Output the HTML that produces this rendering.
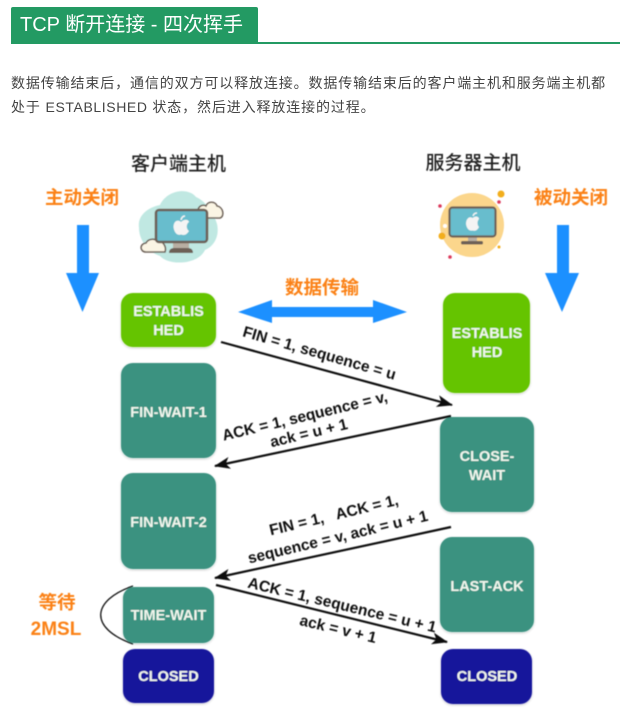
<!DOCTYPE html>
<html lang="zh"><head><meta charset="utf-8"><title>TCP 断开连接 - 四次挥手</title>
<style>
html,body{margin:0;padding:0;background:#fff;width:644px;height:725px;overflow:hidden}
body{position:relative;font-family:"Liberation Sans","Noto Sans CJK SC",sans-serif}
.hd{position:absolute;left:11px;top:7px;width:247px;height:36px;background:#239a63;border-radius:2px 2px 0 0;color:#fff;font-size:20px;line-height:36px;text-indent:9px;white-space:nowrap}
.ln{position:absolute;left:11px;top:42px;width:609px;height:1.500px;background:#239a63}
.p{position:absolute;left:11px;font-size:14px;letter-spacing:.875px;color:#444;white-space:nowrap;line-height:24px}
.p span{letter-spacing:.6px}
svg{position:absolute;left:0;top:0}
</style></head><body>
<div class="ln"></div>
<div class="hd">TCP 断开连接 - 四次挥手</div>
<div class="p" style="top:71px">数据传输结束后，通信的双方可以释放连接。数据传输结束后的客户端主机和服务端主机都</div>
<div class="p" style="top:95px">处于 <span>ESTABLISHED</span> 状态，然后进入释放连接的过程。</div>
<svg width="644" height="725" viewBox="0 0 644 725" font-family="'Liberation Sans','Noto Sans CJK SC',sans-serif">
<defs>
<filter id="b" x="-5%" y="-5%" width="110%" height="110%"><feGaussianBlur stdDeviation="0.42"/></filter>
<filter id="s" x="-10%" y="-10%" width="120%" height="120%"><feDropShadow dx="0" dy="1" stdDeviation="1.200" flood-color="#000" flood-opacity=".22"/></filter>
<marker id="ah" markerWidth="16" markerHeight="12" refX="15" refY="6" orient="auto" markerUnits="userSpaceOnUse"><path d="M0 0L16 6L0 12L4 6Z" fill="#111"/></marker>
</defs>
<g filter="url(#b)">
<!-- titles -->
<g font-size="19" fill="#222" text-anchor="middle" font-weight="500">
<text x="178.500" y="170">客户端主机</text>
<text x="473" y="169">服务器主机</text>
</g>
<g font-size="18.500" fill="#fb8112" text-anchor="middle" font-weight="700">
<text x="82" y="204">主动关闭</text>
<text x="571" y="204">被动关闭</text>
<text x="322" y="294">数据传输</text>
<text x="57" y="609">等待</text>
<text x="56" y="635" font-size="19">2MSL</text>
</g>
<!-- big arrows -->
<g fill="#1e90ff">
<path d="M77 225H89V273H99L82.500 312L66 273H77Z"/>
<path d="M557 225H569V273H579L562 312L545 273H557Z"/>
<path d="M238 312L272 300V307H373V300L407 312L373 323V317H272V323Z"/>
</g>
<!-- client icon -->
<path d="M139 228C137 214 150 207 160 205C167 190 188 187 196 197C207 202 214 214 217 224C220 237 213 247 205 250C198 265 169 266 160 256C148 252 139 240 139 228Z" fill="#c0e8e2"/>
<g stroke="#6d6057" stroke-width="1.600" fill="#fbf5e4">
<path d="M199 218C194 218 192 212 198 211C198 206 203 204 206 206C208 201 215 201 217 206C223 207 225 216 220 218Z"/>
<path d="M146 252C140 252 139 244 146 243C148 239 154 238 157 241C162 240 167 246 165 252Z"/>
</g>
<rect x="173" y="242" width="16" height="7" fill="#b8aea2"/>
<path d="M169 253Q169 248 174 248H188Q193 248 193 253Z" fill="#6d6057"/>
<rect x="156" y="210" width="51" height="32" rx="3" fill="#68bdcd" stroke="#6d6057" stroke-width="2.600"/>
<path d="M181 222C185 218 189 220 189 222C186 224 186 229 189 231C187 234 185 236 181 234.500C177 236 174 232 173.500 227C173.500 221 178 219 181 222Z" fill="#f4f4f4"/>
<path d="M181 220Q182 216 185 216" stroke="#f4f4f4" stroke-width="1.500" fill="none"/>
<!-- server icon -->
<circle cx="472" cy="225" r="32" fill="#fbd68c"/>
<circle cx="501" cy="194" r="3.500" fill="#f2ae1c"/>
<circle cx="442" cy="236" r="3.500" fill="#f2ae1c"/>
<circle cx="445" cy="226" r="2" fill="#fff"/>
<circle cx="499" cy="202" r="1.800" fill="#dc3a5c"/>
<circle cx="440" cy="206" r="1.800" fill="#dc3a5c"/>
<circle cx="450" cy="257" r="1.800" fill="#dc3a5c"/>
<circle cx="499" cy="247" r="1.500" fill="#f2ae1c"/>
<rect x="468" y="236" width="9" height="6" fill="#b8aea2"/>
<rect x="461" y="241" width="22" height="3.500" rx="1.500" fill="#6d6057"/>
<rect x="449.500" y="207.500" width="46" height="29" rx="3" fill="#68bdcd" stroke="#6d6057" stroke-width="2.200"/>
<path d="M472.500 218C476 215 479 217 479 219C477 221 477 225 479 227C477.500 230 475.500 231.500 472.500 230.500C469 231.500 466.500 228 466 224C466 218 470 216 472.500 218Z" fill="#f4f4f4"/>
<path d="M473 216Q474 213 477 213" stroke="#f4f4f4" stroke-width="1.500" fill="none"/>
<!-- boxes -->
<g filter="url(#s)">
<rect x="121" y="293" width="95" height="54" rx="12" fill="#65c400"/>
<rect x="443" y="293" width="87" height="100" rx="12" fill="#65c400"/>
<rect x="121" y="363" width="95" height="95" rx="12" fill="#3a9280"/>
<rect x="121" y="473" width="95" height="96" rx="12" fill="#3a9280"/>
<rect x="123" y="587" width="91" height="56" rx="11" fill="#3a9280"/>
<rect x="440" y="417" width="94" height="95" rx="12" fill="#3a9280"/>
<rect x="440" y="537" width="94" height="95" rx="12" fill="#3a9280"/>
<rect x="123" y="649" width="91" height="54" rx="12" fill="#18139b"/>
<rect x="441" y="649" width="91" height="55" rx="12" fill="#18139b"/>
</g>
<g font-size="14.500" fill="#f2f7ee" font-weight="700" text-anchor="middle">
<text x="168.500" y="316">ESTABLIS</text><text x="168.500" y="335">HED</text>
<text x="487" y="338">ESTABLIS</text><text x="487" y="357">HED</text>
<text x="168.500" y="417">FIN-WAIT-1</text>
<text x="168.500" y="527">FIN-WAIT-2</text>
<text x="168.500" y="620">TIME-WAIT</text>
<text x="487" y="461">CLOSE-</text><text x="487" y="480">WAIT</text>
<text x="487" y="591">LAST-ACK</text>
<text x="168.500" y="681">CLOSED</text>
<text x="487" y="681">CLOSED</text>
</g>
<!-- connectors -->
<g stroke="#111" stroke-width="2.200" fill="none">
<path d="M221 342L452 405" marker-end="url(#ah)"/>
<path d="M451 416L215 466" marker-end="url(#ah)"/>
<path d="M451 527L215 578" marker-end="url(#ah)"/>
<path d="M216 585L447 642" marker-end="url(#ah)"/>
<path d="M133 586C92 600 88 628 133 644" stroke-width="1.300"/>
</g>
<!-- connector labels -->
<g font-size="15.500" fill="#111" font-weight="700" text-anchor="middle">
<text transform="translate(318 358) rotate(16)">FIN = 1, sequence = u</text>
<text transform="translate(306 421) rotate(-13.500)">ACK = 1, sequence = v,</text>
<text transform="translate(310 438) rotate(-13.500)">ack = u + 1</text>
<text transform="translate(335 520) rotate(-13.500)" xml:space="preserve" style="white-space:pre">FIN = 1,   ACK = 1,</text>
<text transform="translate(339 542) rotate(-13.500)">sequence = v, ack = u + 1</text>
<text transform="translate(341 610) rotate(13.500)">ACK = 1, sequence = u + 1</text>
<text transform="translate(337 634) rotate(13.500)">ack = v + 1</text>
</g>
</g>
</svg>
</body></html>
